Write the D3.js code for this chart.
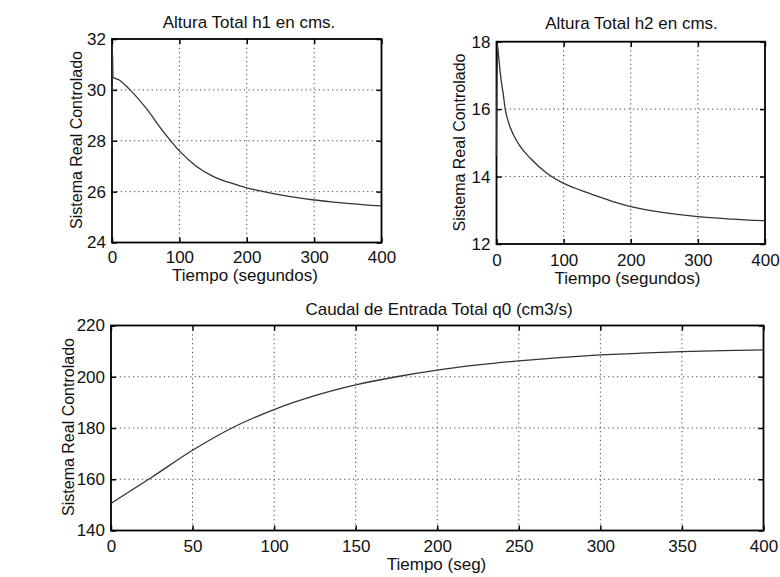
<!DOCTYPE html>
<html>
<head>
<meta charset="utf-8">
<script src="https://cdn.jsdelivr.net/npm/d3@7"></script>
<style>
  html, body { margin: 0; padding: 0; background: #fff; }
  svg text { font-family: "Liberation Sans", Arial, Helvetica, sans-serif; fill: #111; }
</style>
</head>
<body>
<svg id="chart" width="780" height="577"></svg>
<script>
// ---- Data ----
const tH1 = [0, 0.5, 1.5, 10, 25, 50, 75, 100, 125, 150, 175, 200, 225, 250, 275, 300, 325, 350, 375, 400];
const h1  = [27.7, 31.7, 30.5, 30.4, 30.05, 29.3, 28.4, 27.6, 27.0, 26.6, 26.35, 26.15, 26.0, 25.87, 25.76, 25.67, 25.6, 25.54, 25.48, 25.44];

const tH2 = [0, 1.5, 3, 6, 10, 13, 18, 25, 35, 50, 75, 100, 125, 150, 175, 200, 250, 300, 350, 400];
const h2  = [14.6, 17.9, 17.6, 17.0, 16.45, 16.0, 15.6, 15.25, 14.9, 14.55, 14.1, 13.8, 13.6, 13.42, 13.25, 13.11, 12.93, 12.81, 12.74, 12.69];

const tQ0 = [0, 25, 50, 75, 100, 125, 150, 175, 200, 225, 250, 275, 300, 325, 350, 375, 400];
const q0  = [150.6, 160.8, 171.3, 180.3, 187.2, 192.6, 196.8, 200.0, 202.6, 204.6, 206.2, 207.5, 208.5, 209.2, 209.8, 210.2, 210.5];

const xTicksTop = [0, 100, 200, 300, 400];
const xTicksBottom = [0, 50, 100, 150, 200, 250, 300, 350, 400];
const yTicksH1 = [24, 26, 28, 30, 32];
const yTicksH2 = [12, 14, 16, 18];
const yTicksQ0 = [140, 160, 180, 200, 220];

const titles = ["Altura Total h1 en cms.", "Altura Total h2 en cms.", "Caudal de Entrada Total q0 (cm3/s)"];
const xLabels = ["Tiempo (segundos)", "Tiempo (segundos)", "Tiempo (seg)"];
const yLabel = "Sistema Real Controlado";

// ---- Layout ----
const panels = [
  { t: tH1, v: h1, xd: [0, 400], yd: [24, 32], xt: xTicksTop, yt: yTicksH1, pad: 8.5,
    x0: 112, x1: 381.5, y0: 39, y1: 242.5, title: titles[0], tx: 249, ty: 27.5,
    xl: xLabels[0], xlx: 245, xly: 280.5, ylx: 81.5, yly: 140 },
  { t: tH2, v: h2, xd: [0, 400], yd: [12, 18], xt: xTicksTop, yt: yTicksH2, pad: 9.5,
    x0: 496.5, x1: 765, y0: 41.7, y1: 244, title: titles[1], tx: 631.5, ty: 29,
    xl: xLabels[1], xlx: 627.5, xly: 283.5, ylx: 465, yly: 142.5 },
  { t: tQ0, v: q0, xd: [0, 400], yd: [140, 220], xt: xTicksBottom, yt: yTicksQ0, pad: 9.5,
    x0: 111, x1: 763.5, y0: 325.5, y1: 530.5, title: titles[2], tx: 439, ty: 315,
    xl: xLabels[2], xlx: 436.5, xly: 570, ylx: 73.5, yly: 427 }
];

const svg = d3.select("#chart");
const FS = 17;

panels.forEach(p => {
  const x = d3.scaleLinear().domain(p.xd).range([p.x0, p.x1]);
  const y = d3.scaleLinear().domain(p.yd).range([p.y1, p.y0]);
  const g = svg.append("g");

  // grid
  g.append("g").selectAll("line.vg").data(p.xt.slice(1, -1)).join("line")
    .attr("x1", d => x(d)).attr("x2", d => x(d)).attr("y1", p.y0).attr("y2", p.y1)
    .attr("stroke", "#444").attr("stroke-width", 1).attr("stroke-dasharray", "1.2,3.2");
  g.append("g").selectAll("line.hg").data(p.yt.slice(1, -1)).join("line")
    .attr("x1", p.x0).attr("x2", p.x1).attr("y1", d => y(d)).attr("y2", d => y(d))
    .attr("stroke", "#444").attr("stroke-width", 1).attr("stroke-dasharray", "1.2,3.2");

  // axes (inward ticks)
  const ax = (gen, tr) => {
    const a = g.append("g").attr("transform", tr).call(gen);
    a.select(".domain").remove();
    a.selectAll(".tick line").attr("stroke", "#000").attr("stroke-width", 1.5);
    a.selectAll("text").attr("font-size", FS).attr("fill", "#111")
      .style("font-family", '"Liberation Sans", Arial, Helvetica, sans-serif');
    return a;
  };
  ax(d3.axisBottom(x).tickValues(p.xt).tickSizeInner(-5).tickSizeOuter(0).tickPadding(p.pad).tickFormat(d3.format("d")),
     `translate(0,${p.y1})`);
  ax(d3.axisTop(x).tickValues(p.xt).tickSizeInner(-5).tickSizeOuter(0).tickFormat(""),
     `translate(0,${p.y0})`);
  ax(d3.axisLeft(y).tickValues(p.yt).tickSizeInner(-5).tickSizeOuter(0).tickPadding(6).tickFormat(d3.format("d")),
     `translate(${p.x0},0)`);
  ax(d3.axisRight(y).tickValues(p.yt).tickSizeInner(-5).tickSizeOuter(0).tickFormat(""),
     `translate(${p.x1},0)`);

  // box
  g.append("rect").attr("x", p.x0).attr("y", p.y0)
    .attr("width", p.x1 - p.x0).attr("height", p.y1 - p.y0)
    .attr("fill", "none").attr("stroke", "#000").attr("stroke-width", 1.8);

  // curve
  const pts = p.t.map((t, i) => [t, p.v[i]]);
  g.append("path").datum(pts)
    .attr("d", d3.line().x(d => x(d[0])).y(d => y(d[1])).curve(d3.curveMonotoneX))
    .attr("fill", "none").attr("stroke", "#333").attr("stroke-width", 1.3);

  // texts
  g.append("text").attr("x", p.tx).attr("y", p.ty).attr("text-anchor", "middle")
    .attr("font-size", FS).text(p.title);
  g.append("text").attr("x", p.xlx).attr("y", p.xly).attr("text-anchor", "middle")
    .attr("font-size", FS).text(p.xl);
  g.append("text").attr("transform", `translate(${p.ylx},${p.yly}) rotate(-90)`)
    .attr("text-anchor", "middle").attr("font-size", 16).text(yLabel);
});
</script>
</body>
</html>
